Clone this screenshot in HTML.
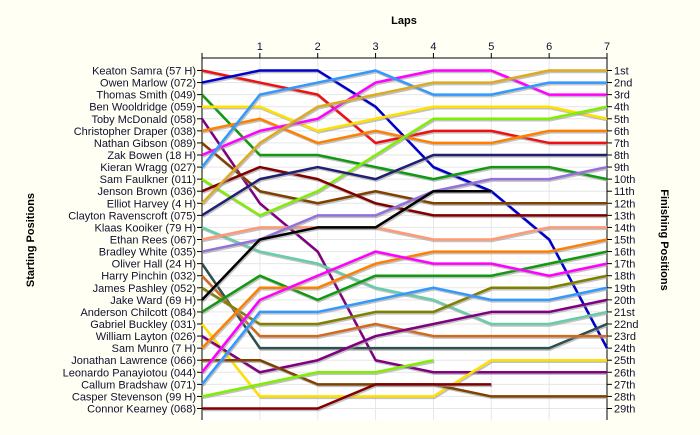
<!DOCTYPE html>
<html><head><meta charset="utf-8"><style>
body{margin:0;background:#fffff4;}
svg{display:block;font-family:"Liberation Sans",sans-serif;}
</style></head><body>
<svg id="chart" width="700" height="435" xmlns="http://www.w3.org/2000/svg">
<rect x="0" y="0" width="700" height="435" fill="#fffff4"/>
<rect x="202" y="58" width="405" height="362" fill="#ffffff"/>
<text x="404" y="24" text-anchor="middle" font-size="11" font-weight="bold">Laps</text>
<text transform="translate(34,240) rotate(-90)" text-anchor="middle" font-size="11" font-weight="bold">Starting Positions</text>
<text transform="translate(661,240) rotate(90)" text-anchor="middle" font-size="11" font-weight="bold">Finishing Positions</text>
<g id="grid"></g><g id="axes"></g><g id="series"></g><g id="labels"></g>
</svg>
<script>
const laps = [0,1,2,3,4,5,6,7];
const lapTicks = ["1","2","3","4","5","6","7"];
const riders = ["Keaton Samra (57 H)","Owen Marlow (072)","Thomas Smith (049)","Ben Wooldridge (059)","Toby McDonald (058)","Christopher Draper (038)","Nathan Gibson (089)","Zak Bowen (18 H)","Kieran Wragg (027)","Sam Faulkner (011)","Jenson Brown (036)","Elliot Harvey (4 H)","Clayton Ravenscroft (075)","Klaas Kooiker (79 H)","Ethan Rees (067)","Bradley White (035)","Oliver Hall (24 H)","Harry Pinchin (032)","James Pashley (052)","Jake Ward (69 H)","Anderson Chilcott (084)","Gabriel Buckley (031)","William Layton (026)","Sam Munro (7 H)","Jonathan Lawrence (066)","Leonardo Panayiotou (044)","Callum Bradshaw (071)","Casper Stevenson (99 H)","Connor Kearney (068)"];
const finishLabels = ["1st","2nd","3rd","4th","5th","6th","7th","8th","9th","10th","11th","12th","13th","14th","15th","16th","17th","18th","19th","20th","21st","22nd","23rd","24th","25th","26th","27th","28th","29th"];
const positions = [
[1,2,3,7,6,6,7,7],[2,1,1,4,9,11,15,24],[3,8,8,9,10,9,9,10],[4,4,6,5,4,4,4,5],
[5,12,16,25,26,26,26,26],[6,5,7,6,7,7,6,6],[7,11,12,11,12,12,12,12],[8,6,5,2,1,1,3,3],
[9,3,2,1,3,3,2,2],[10,13,11,8,5,5,5,4],[11,9,10,12,13,13,13,13],[12,7,4,3,2,2,1,1],
[13,10,9,10,8,8,8,8],[14,16,17,19,20,22,22,21],[15,14,14,14,15,15,14,14],[16,15,13,13,11,10,10,9],
[17,24,24,24,24,24,24,22],[18,23,23,22,23,23,23,23],[19,22,22,21,21,19,19,18],[20,15,14,14,11,11],
[21,18,20,18,18,18,17,16],[22,28,28,28,28,25,25,25],[23,26,25,23,22,21,21,20],[24,19,19,17,16,16,16,15],
[25,25,27,27,27,28,28,28],[26,20,18,16,17,17,18,17],[27,21,21,20,19,20,20,19],[28,27,26,26,25],[29,29,29,27,27,27]];
const colors = ["#ee1111","#0000cc","#119911","#ffe000","#800080","#ff8000","#804000","#ff00ff","#3399ff","#80ee00","#800000","#ddaa22","#202070","#66ccaa","#ff9977","#9370db","#2f4f4f","#d2691e","#808000","#000000","#119911","#ffe000","#800080","#ff8000","#804000","#ff00ff","#3399ff","#80ee00","#800000"];
const NS="http://www.w3.org/2000/svg";
const x0=202,x1=607,y0=58,y1=420;
function xs(l){return x0+(x1-x0)*l/7;}
function ys(p){return 70.5+(p-1)*(408.5-70.5)/28;}
function mk(t,a,parent){const e=document.createElementNS(NS,t);for(const k in a)e.setAttribute(k,a[k]);parent.appendChild(e);return e;}
const grid=document.getElementById('grid'),axes=document.getElementById('axes'),series=document.getElementById('series'),labels=document.getElementById('labels');
for(let p=1;p<=riders.length;p++){
  const g=mk('line',{x1:x0,x2:x1,y1:ys(p),y2:ys(p),stroke:'#e6e6e6','stroke-width':1},grid);
  
  
  const tl=mk('line',{x1:x0-5,x2:x0,y1:ys(p),y2:ys(p),stroke:'#000'},axes);
  
  
  const tr=mk('line',{x1:x1,x2:x1+5,y1:ys(p),y2:ys(p),stroke:'#000'},axes);
  
  
  const lt=mk('text',{x:x0-6,y:ys(p)+4,'text-anchor':'end','font-size':11,fill:'#101030'},labels);
  lt.textContent=riders[p-1];
  
  
  const rt=mk('text',{x:x1+7,y:ys(p)+4,'font-size':11,fill:'#101030'},labels);
  rt.textContent=finishLabels[p-1];
  
  
}
laps.forEach(l=>{
  if(l===0)return;
  const g=mk('line',{x1:xs(l),x2:xs(l),y1:y0,y2:y1,stroke:'#e6e6e6'},grid);
  
  
  const t=mk('line',{x1:xs(l),x2:xs(l),y1:y0-5,y2:y0,stroke:'#000'},axes);
  
  
  const tx=mk('text',{x:xs(l),y:y0-8,'text-anchor':'middle','font-size':11,fill:'#101030'},labels);
  tx.textContent=lapTicks[l-1];
  
  
});
const t0=mk('line',{x1:x0,x2:x0,y1:y0-5,y2:y0,stroke:'#000'},axes);


const ta=mk('line',{x1:x0,x2:x1,y1:y0,y2:y0,stroke:'#000'},axes);


const la=mk('line',{x1:x0,x2:x0,y1:y0,y2:y1,stroke:'#000'},axes);


const ra=mk('line',{x1:x1,x2:x1,y1:y0,y2:y1,stroke:'#000'},axes);


positions.forEach((arr,i)=>{
  const pts=arr.map((p,l)=>xs(l)+','+ys(p)).join(' ');
  const sh=mk('polyline',{points:arr.map((p,l)=>(xs(l)+1)+','+(ys(p)+1.5)).join(' '),fill:'none',stroke:'#999','stroke-width':2.5,'stroke-opacity':0.6},series);
  
  
  const pl=mk('polyline',{points:pts,fill:'none',stroke:colors[i],'stroke-width':2.5,'stroke-linejoin':'round'},series);
  
  
});
</script>
</body></html>
